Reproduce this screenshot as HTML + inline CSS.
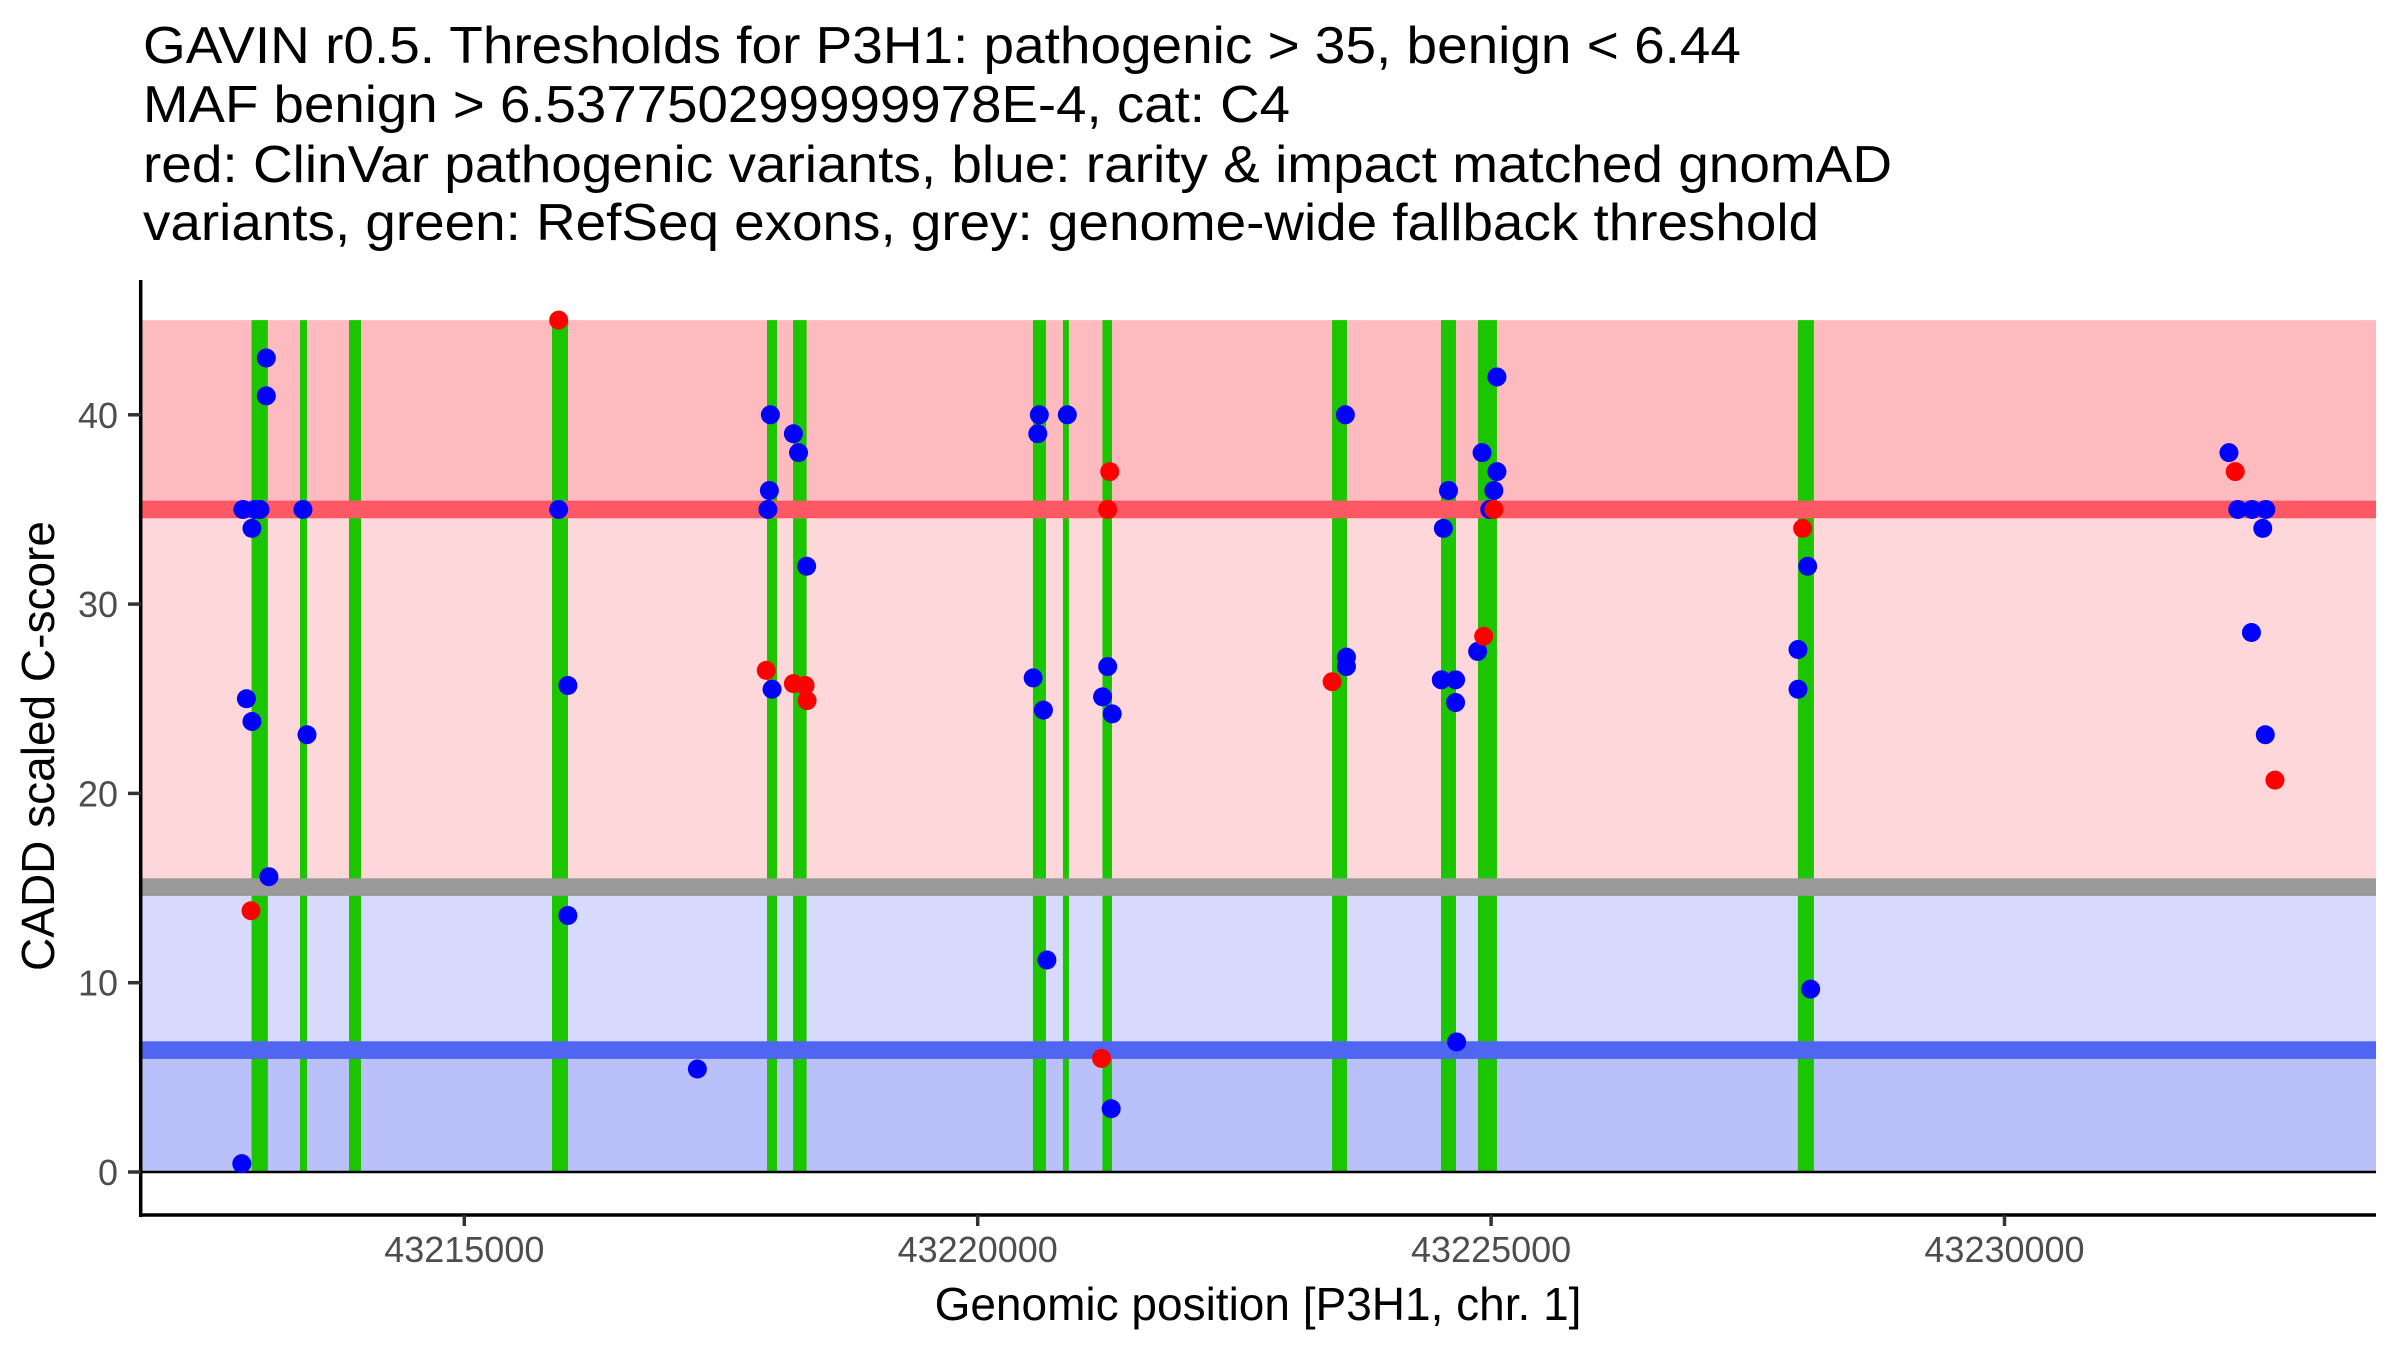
<!DOCTYPE html>
<html><head><meta charset="utf-8"><style>
html,body{margin:0;padding:0;background:#fff;}
svg{display:block;}
text{font-family:"Liberation Sans",Arial,sans-serif;}
</style></head><body>
<svg id="chart" width="2400" height="1350" viewBox="0 0 2400 1350" xmlns="http://www.w3.org/2000/svg">
<g font-size="52" fill="#000">
<text x="143" y="63" textLength="1598" lengthAdjust="spacingAndGlyphs">GAVIN r0.5. Thresholds for P3H1: pathogenic &gt; 35, benign &lt; 6.44</text>
<text x="143" y="122" textLength="1147" lengthAdjust="spacingAndGlyphs">MAF benign &gt; 6.537750299999978E-4, cat: C4</text>
<text x="143" y="182" textLength="1749" lengthAdjust="spacingAndGlyphs">red: ClinVar pathogenic variants, blue: rarity &amp; impact matched gnomAD</text>
<text x="143" y="240" textLength="1676" lengthAdjust="spacingAndGlyphs">variants, green: RefSeq exons, grey: genome-wide fallback threshold</text>
</g>
<g id="bands"></g>
<g id="exons"></g>
<g id="lines"></g>
<g id="points"></g>
<g id="axes"></g>
<text x="0" y="0" font-size="46" fill="#000" text-anchor="middle" transform="translate(54,746) rotate(-90)">CADD scaled C-score</text>
<text x="1258" y="1320" font-size="46" fill="#000" text-anchor="middle">Genomic position [P3H1, chr. 1]</text>
</svg>
<script>
const yTicks = [0, 10, 20, 30, 40];
const xTicks = [43215000, 43220000, 43225000, 43230000];
const xTickLabels = ["43215000", "43220000", "43225000", "43230000"];
const pathogenicThreshold = 35;
const benignThreshold = 6.44;
const fallbackThreshold = 15.05;
const exonStarts = [43212928, 43213400, 43213877, 43215854, 43217948, 43218202, 43220538, 43220830, 43221215, 43223451, 43224512, 43224872, 43227988];
const exonEnds   = [43213087, 43213468, 43213994, 43216010, 43218046, 43218334, 43220665, 43220888, 43221308, 43223597, 43224658, 43225057, 43228144];
const bluePos = [43212833,43212844,43212962,43213010,43212932,43213072,43213072,43212878,43212932,43213097,43213429,43213468,43215919,43216009,43216009,43217270,43217981,43217971,43217957,43217997,43218205,43218255,43218334,
 43220600,43220585,43220873,43220540,43220640,43221266,43221216,43221310,43220674,43221300,43223581,43223591,43223591,43224585,43224535,43224515,43224654,43224654,43224664,43224912,43225057,43225057,43225027,43224987,43224869,
 43228083,43227989,43227989,43228112,43232186,43232272,43232411,43232545,43232515,43232405,43232540];
const blueScore = [0.44,35,35,35,34,43,41,25,23.8,15.6,35,23.1,35,25.7,13.55,5.44,40,36,35,25.5,39,38,32,
 40,39,40,26.1,24.4,26.7,25.1,24.2,11.2,3.34,40,27.2,26.7,36,34,26,26,24.8,6.87,38,42,37,36,35,27.5,
 32,27.6,25.5,9.66,38,35,35,35,34,28.5,23.1];
const redPos = [43212923,43215919,43217941,43218205,43218319,43218338,43221286,43221266,43221206,43223452,43225027,43224928,43228034,43232247,43232634];
const redScore = [13.8,45,26.5,25.8,25.7,24.9,37,35,6.0,25.9,35,28.3,34,37,20.7];

const NS = "http://www.w3.org/2000/svg";
const PL = 140.7, PR = 2376, PB = 1215;
const xMin = 43215000, x0px = 464.3, pxPerBp = 0.10268;
const y0px = 1172, pxPerUnit = 18.93;
const xs = v => x0px + (v - xMin) * pxPerBp;
const ys = v => y0px - v * pxPerUnit;
function mk(tag, attrs, parent) {
  const e = document.createElementNS(NS, tag);
  for (const k in attrs) e.setAttribute(k, attrs[k]);
  parent.appendChild(e);
  return e;
}
const bands = document.getElementById('bands');
const exG = document.getElementById('exons');
const lines = document.getElementById('lines');
const pts = document.getElementById('points');
const axes = document.getElementById('axes');
const yTop = 45;
let r;
r = mk('rect', {x: PL, y: ys(yTop), width: PR-PL, height: ys(pathogenicThreshold)-ys(yTop), fill: '#FDBBC0'}, bands);


r = mk('rect', {x: PL, y: ys(pathogenicThreshold), width: PR-PL, height: ys(fallbackThreshold)-ys(pathogenicThreshold), fill: '#FED7DB'}, bands);


r = mk('rect', {x: PL, y: ys(fallbackThreshold), width: PR-PL, height: ys(benignThreshold)-ys(fallbackThreshold), fill: '#D7DAFC'}, bands);


r = mk('rect', {x: PL, y: ys(benignThreshold), width: PR-PL, height: ys(0)-ys(benignThreshold), fill: '#BAC0F9'}, bands);



for (let i = 0; i < exonStarts.length; i++) {
  const e = mk('rect', {x: xs(exonStarts[i]), y: ys(yTop), width: xs(exonEnds[i]) - xs(exonStarts[i]), height: ys(0)-ys(yTop), fill: '#1BC600'}, exG);
  
  
}
function hline(v, color, name) {
  const l = mk('rect', {x: PL, y: ys(v) - 8.8, width: PR-PL, height: 17.6, fill: color}, lines);
  
  
}
hline(pathogenicThreshold, '#FE5864', 'pathogenic-threshold-line');
hline(fallbackThreshold, '#9A9A9A', 'fallback-threshold-line');
hline(benignThreshold, '#5065F2', 'benign-threshold-line');
const zl = mk('line', {x1: PL, x2: PR, y1: ys(0), y2: ys(0), stroke: '#000', 'stroke-width': 2.5}, lines);



for (let i = 0; i < bluePos.length; i++) {
  const c = mk('circle', {cx: xs(bluePos[i]), cy: ys(blueScore[i]), r: 9.5, fill: '#0000FF'}, pts);
  
  
}
for (let i = 0; i < redPos.length; i++) {
  const c = mk('circle', {cx: xs(redPos[i]), cy: ys(redScore[i]), r: 9.5, fill: '#FF0000'}, pts);
  
  
}
// axes
let a = mk('line', {x1: PL, x2: PL, y1: 280, y2: PB + 2, stroke: '#000', 'stroke-width': 3.5}, axes);


a = mk('line', {x1: PL - 1.7, x2: PR, y1: PB, y2: PB, stroke: '#000', 'stroke-width': 3.5}, axes);


yTicks.forEach(v => {
  const t = mk('line', {x1: 128, x2: PL, y1: ys(v), y2: ys(v), stroke: '#333', 'stroke-width': 3.5}, axes);
  
  
  const tx = mk('text', {x: 118, y: ys(v) + 13, 'font-size': 36, fill: '#4d4d4d', 'text-anchor': 'end'}, axes);
  tx.textContent = String(v);
  
  
});
xTicks.forEach((v, i) => {
  const t = mk('line', {x1: xs(v), x2: xs(v), y1: PB, y2: PB + 11, stroke: '#333', 'stroke-width': 3.5}, axes);
  
  
  const tx = mk('text', {x: xs(v), y: 1262, 'font-size': 36, fill: '#4d4d4d', 'text-anchor': 'middle'}, axes);
  tx.textContent = xTickLabels[i];
  
  
});
</script>
</body></html>
